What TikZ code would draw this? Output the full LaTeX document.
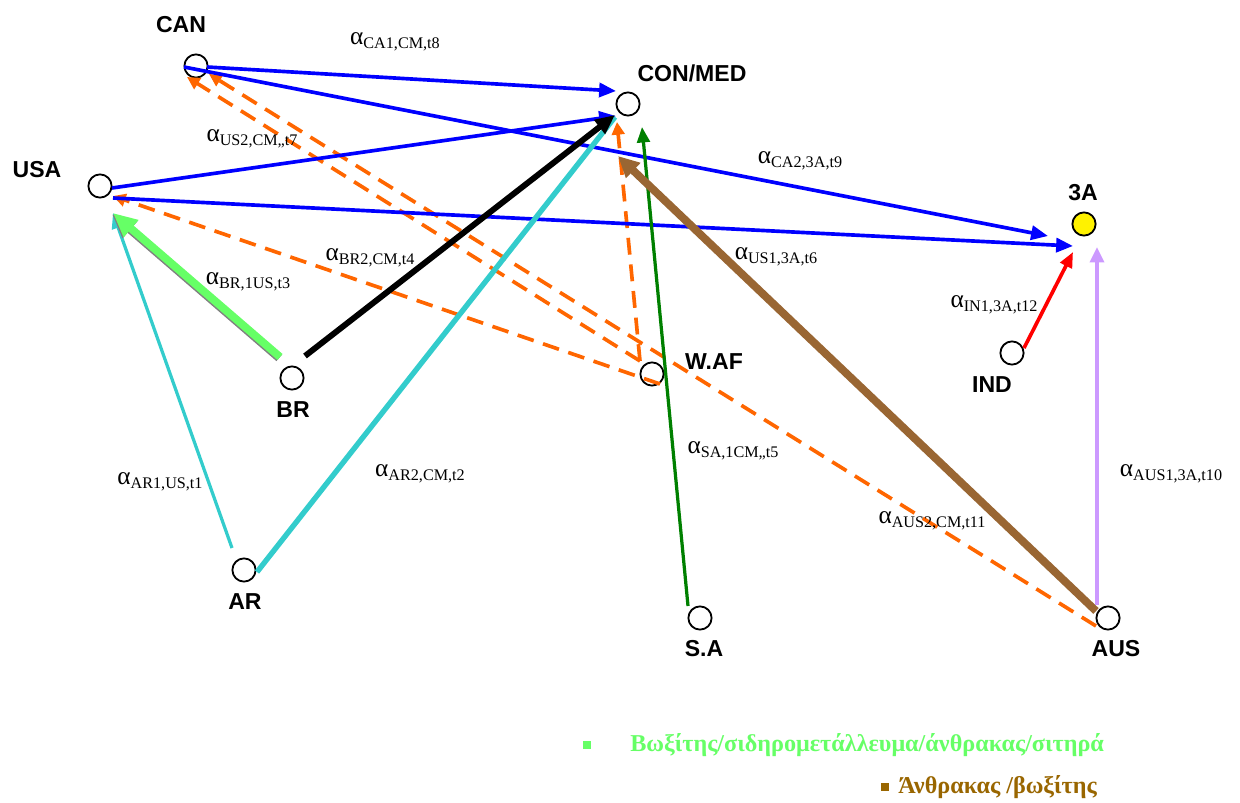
\documentclass[tikz,border=0pt]{standalone}
\usepackage{fontspec}
\setmainfont{Liberation Serif}
\setsansfont{Liberation Sans}
\usetikzlibrary{arrows.meta}
\definecolor{flowblue}{HTML}{0000FF}
\definecolor{floworange}{HTML}{FF6600}
\definecolor{lightgreen}{HTML}{66FF66}
\definecolor{flowcyan}{HTML}{33CCCC}
\definecolor{darkgreen}{HTML}{008000}
\definecolor{flowbrown}{HTML}{996633}
\definecolor{flowlilac}{HTML}{CC99FF}
\definecolor{legendbrown}{HTML}{996600}

% alpha with its trade subscript
\newcommand{\flowlbl}[1]{{\fontsize{18}{18}\selectfont α}\raisebox{-2.5pt}{\fontsize{11.5}{11.5}\selectfont #1}}

\begin{document}
\begin{tikzpicture}[x=0.025cm, y=-0.025cm,
  city/.style={circle, draw, line width=1.3pt, minimum size=0.58cm, inner sep=0pt},
  citylbl/.style={inner sep=0pt, font=\sffamily\bfseries\fontsize{16.4}{16.4}\selectfont},
  flow/.style={inner sep=0pt},
  blueflow/.style={flowblue, line width=2.6pt, -{Triangle[length=12pt,width=10pt]}},
  orangeflow/.style={floworange, line width=2.6pt, dash pattern=on 12pt off 7pt,
                     -{Triangle[length=9pt,width=9pt]}},
  legend/.style={anchor=west, inner sep=0pt, font=\bfseries\fontsize{17.2}{17.2}\selectfont},
  bullet/.style={rectangle, minimum size=0.18cm, inner sep=0pt},
]
\useasboundingbox (0,0) rectangle (1240,802);

% ports
\node[city] (can)    at (196,66)  {};
\node[city] (conmed) at (628,104) {};
\node[city] (usa)    at (100,186) {};
\node[city, fill=yellow] (threeA) at (1084,224) {};
\node[city] (br)     at (292,378) {};
\node[city] (waf)    at (652,374) {};
\node[city] (ind)    at (1012,353) {};
\node[city] (ar)     at (244,570) {};
\node[city] (sa)     at (700,618) {};
\node[city] (aus)    at (1108,618) {};

\node[citylbl] (can-l)    at (181,25)  {CAN};
\node[citylbl] (conmed-l) at (692,73)  {CON/MED};
\node[citylbl] (usa-l)    at (37,170)  {USA};
\node[citylbl] (threeA-l) at (1083,193) {3A};
\node[citylbl] (ind-l)    at (992,385) {IND};
\node[citylbl] (br-l)     at (293,410) {BR};
\node[citylbl] (waf-l)    at (714,362) {W.AF};
\node[citylbl] (ar-l)     at (245,602) {AR};
\node[citylbl] (sa-l)     at (704,649) {S.A};
\node[citylbl] (aus-l)    at (1116,649) {AUS};

% dashed flows first
\draw[orangeflow] ([shift={(-12,-13)}]waf.center) -- ([shift={(-9,11)}]can.center);
\draw[orangeflow] ([shift={(-12,8)}]aus.center) -- ([shift={(13,8)}]can.center);
\draw[orangeflow] ([shift={(8,10)}]waf.center) -- ([shift={(13,10)}]usa.center);
\draw[orangeflow] ([shift={(-12,-13)}]waf.center) -- ([shift={(-11,18)}]conmed.center);

% blue flows
\draw[blueflow] ([shift={(11,1)}]can.center) -- ([shift={(-12,-13)}]conmed.center);
\draw[blueflow] ([shift={(-12,1)}]can.center) -- ([shift={(-36,12)}]threeA.center);
\draw[blueflow] ([shift={(12,2)}]usa.center) -- ([shift={(-12,12)}]conmed.center);
\draw[blueflow] ([shift={(13,12)}]usa.center) -- ([shift={(-11,22)}]threeA.center);

% the other flows
\draw[flowcyan, line width=2.3pt, -{Triangle[length=11pt,width=9pt]}]
  ([shift={(-12,-22)}]ar.center) -- ([shift={(13,27)}]usa.center);
\draw[lightgreen, line width=5.6pt, -{Triangle[length=17pt,width=15pt]},
  preaction={draw=gray, line width=5.6pt, transform canvas={shift={(-0.7pt,-0.8pt)}}}]
  ([shift={(-12,-21)}]br.center) -- ([shift={(13,27)}]usa.center);
\draw[flowcyan, line width=3.8pt]
  ([shift={(13,2)}]ar.center) -- ([shift={(-13,13)}]conmed.center);
\draw[black, line width=4.2pt, -{Triangle[length=14pt,width=12pt]}]
  ([shift={(13,-22)}]br.center) -- ([shift={(-13,11)}]conmed.center);
\draw[darkgreen, line width=2.3pt, -{Triangle[length=11pt,width=9pt]}]
  ([shift={(-12,-12)}]sa.center) -- ([shift={(14,23)}]conmed.center);
\draw[flowbrown, line width=5.6pt, -{Triangle[length=15pt,width=14pt]}]
  ([shift={(-12,-7)}]aus.center) -- ([shift={(-10,52)}]conmed.center);
\draw[flowlilac, line width=2.4pt, -{Triangle[length=11pt,width=10pt]}]
  ([shift={(-11,-13)}]aus.center) -- ([shift={(13,23)}]threeA.center);
\draw[red, line width=2.6pt, -{Triangle[length=11pt,width=9pt]}]
  ([shift={(12,-5)}]ind.center) -- ([shift={(-11,28)}]threeA.center);

% flow coefficients
\node[flow] (a-ca1)  at (395,42)   {\flowlbl{CA1,CM,t8}};
\node[flow] (a-us2)  at (252,139)  {\flowlbl{US2,CM,,t7}};
\node[flow] (a-ca2)  at (800,161)  {\flowlbl{CA2,3A,t9}};
\node[flow] (a-in1)  at (994,305)  {\flowlbl{IN1,3A,t12}};
\node[flow] (a-br2)  at (370,258)  {\flowlbl{BR2,CM,t4}};
\node[flow] (a-br1)  at (248,282)  {\flowlbl{BR,1US,t3}};
\node[flow] (a-ar1)  at (160,482)  {\flowlbl{AR1,US,t1}};
\node[flow] (a-ar2)  at (420,474)  {\flowlbl{AR2,CM,t2}};
\node[flow] (a-us1)  at (776,257)  {\flowlbl{US1,3A,t6}};
\node[flow] (a-sa1)  at (733,451)  {\flowlbl{SA,1CM,,t5}};
\node[flow] (a-aus2) at (932,521)  {\flowlbl{AUS2,CM,t11}};
\node[flow] (a-aus1) at (1171,474) {\flowlbl{AUS1,3A,t10}};

% legend
\node[bullet, fill=lightgreen] (bul-1) at (587,745) {};
\node[legend, text=lightgreen] (leg-1) at (630,745) {Βωξίτης/σιδηρομετάλλευμα/άνθρακας/σιτηρά};
\node[bullet, fill=legendbrown] (bul-2) at (885,787) {};
\node[legend, text=legendbrown] (leg-2) at (898,787) {Άνθρακας /βωξίτης};
\end{tikzpicture}
\end{document}
